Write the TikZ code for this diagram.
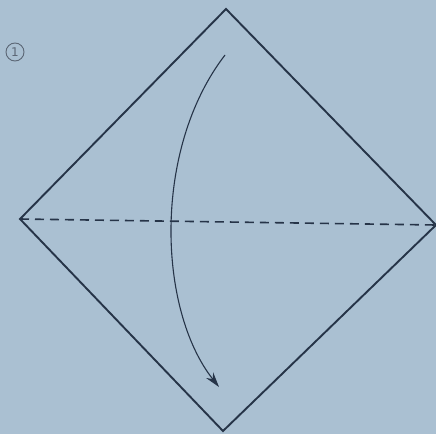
\documentclass[tikz,border=0pt]{standalone}
\usepackage{fontspec}
\setmainfont{DejaVu Sans}
\usetikzlibrary{arrows.meta}
\begin{document}
\begin{tikzpicture}[x=1pt,y=-1pt,
  paper/.style={draw=ink,line width=1.9pt,line join=miter},
  fold/.style={draw=ink,line width=1.6pt,dash pattern=on 9pt off 6pt},
  arr/.style={draw=ink,line width=1.1pt,-{Stealth[length=15pt,width=9pt]}}]
\definecolor{bg}{RGB}{170,192,210}
\definecolor{ink}{RGB}{38,52,72}
\fill[bg] (0,0) rectangle (436,434);
\useasboundingbox (0,0) rectangle (436,434);
\coordinate (T) at (226,9);
\coordinate (L) at (20,219);
\coordinate (R) at (436,225);
\coordinate (B) at (223,431);
\coordinate (S) at (225,55);
\coordinate (E) at (219,387);
\draw[paper] (T) -- (R) -- (B) -- (L) -- cycle;
\draw[fold] (L) -- (R);
\draw[arr] (S) .. controls (152,150) and (158,310) .. (E);
\node[draw=ink!75,circle,line width=0.9pt,inner sep=0pt,minimum size=18pt,text=ink!75,font=\fontsize{12}{12}\selectfont] (n1) at (15,52) {1};
\end{tikzpicture}
\end{document}
